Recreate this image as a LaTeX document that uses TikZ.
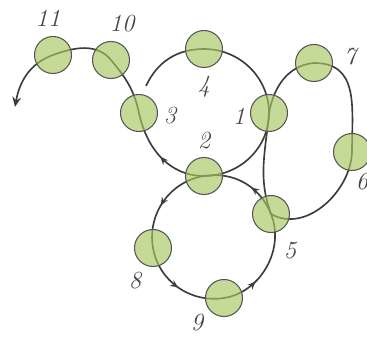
\documentclass[tikz,border=0pt]{standalone}
\usetikzlibrary{arrows.meta, decorations.markings}
\definecolor{Bead}{HTML}{A8C661}
\definecolor{BeadEdge}{HTML}{555555}
\definecolor{Wire}{HTML}{3C3C3C}
\definecolor{Ink}{HTML}{454545}
\pgfdeclarelayer{front}
\pgfsetlayers{main,front}

\begin{document}
\begin{tikzpicture}[
    x=0.03cm, y=0.03cm,
    bead/.style={
        circle, draw=BeadEdge, line width=0.9pt, fill=Bead,
        fill opacity=0.65, minimum size=1.11cm, inner sep=0pt
    },
    wire/.style={Wire, line width=1.4pt},
    flow/.style={
        postaction={decorate},
        decoration={markings, mark=at position #1 with {\arrow{Stealth[length=2.4mm, width=2mm]}}}
    },
    flow/.default=0.5,
    lbl/.style={font=\fontsize{21}{24}\selectfont\itshape, text=Ink}
]
\useasboundingbox (0,0) rectangle (367,337);

% =============================================
% BEADS (on top of the wires)
% =============================================
\begin{pgfonlayer}{front}
\node[bead] (n1) at (269,224) {};
\node[bead] (n2) at (204,161) {};
\node[bead] (n3) at (139,224) {};
\node[bead] (n4) at (204,288) {};
\node[bead] (n5) at (271,123) {};
\node[bead] (n6) at (352,185) {};
\node[bead] (n7) at (314,274) {};
\node[bead] (n8) at (153,89) {};
\node[bead] (n9) at (224,39) {};
\node[bead] (n10) at (111,277) {};
\node[bead] (n11) at (53,282) {};
\end{pgfonlayer}

\coordinate (gap) at (146,251);
\coordinate (tip) at (15,230);

% numbers
\node[lbl] (t1) at ([shift={(-30,-3)}]n1) {1};
\node[lbl] (t2) at ([shift={(0,35)}]n2) {2};
\node[lbl] (t3) at ([shift={(31,-3)}]n3) {3};
\node[lbl] (t4) at ([shift={(0,-38)}]n4) {4};
\node[lbl] (t5) at ([shift={(19,-37)}]n5) {5};
\node[lbl] (t6) at ([shift={(10,-30)}]n6) {6};
\node[lbl] (t7) at ([shift={(36,6)}]n7) {7};
\node[lbl] (t8) at ([shift={(-18,-33)}]n8) {8};
\node[lbl] (t9) at ([shift={(-27,-25)}]n9) {9};
\node[lbl] (t10) at ([shift={(11,36)}]n10) {10};
\node[lbl] (t11) at ([shift={(-5,37)}]n11) {11};

% =============================================
% UPPER LOOP: 4 -> 1 -> 2 -> 3, then out via 10, 11
% =============================================
\draw[wire] (gap) to[out=65,in=180] (n4.center);
\draw[wire] (n4.center) to[out=0,in=90] (n1.center);
\draw[wire] (n1.center) to[out=-90,in=0] (n2.center);
\draw[wire, flow] (n2.center) to[out=180,in=282] (n3.center);
\draw[wire] (n3.center) to[out=102,in=-50] (n10.center);
\draw[wire] (n10.center) to[out=130,in=20] (n11.center);
\draw[wire, -{Stealth[length=3mm, width=2.6mm]}] (n11.center) to[out=200,in=80] (tip);

% =============================================
% LOWER LOOP: 2 -> 8 -> 9 -> 5 -> 2
% =============================================
\draw[wire, flow=0.55] (n2.center) to[out=189,in=100] (n8.center);
\draw[wire, flow] (n8.center) to[out=280,in=189] (n9.center);
\draw[wire, flow=0.33] (n9.center) to[out=9,in=292] (n5.center);
\draw[wire, flow=0.4] (n5.center) to[out=112,in=9] (n2.center);

% =============================================
% RIGHT LOOP: 1 -> 7 -> 6 -> 5 -> 1
% =============================================
\draw[wire] (n1.center) to[out=80,in=185] (n7.center);
\draw[wire] (n7.center) to[out=0,in=90,looseness=1.2] (n6.center);
\draw[wire] (n6.center) to[out=268,in=330] (n5.center);
\draw[wire] (n5.center) to[out=110,in=265] (n1.center);

\end{tikzpicture}
\end{document}
